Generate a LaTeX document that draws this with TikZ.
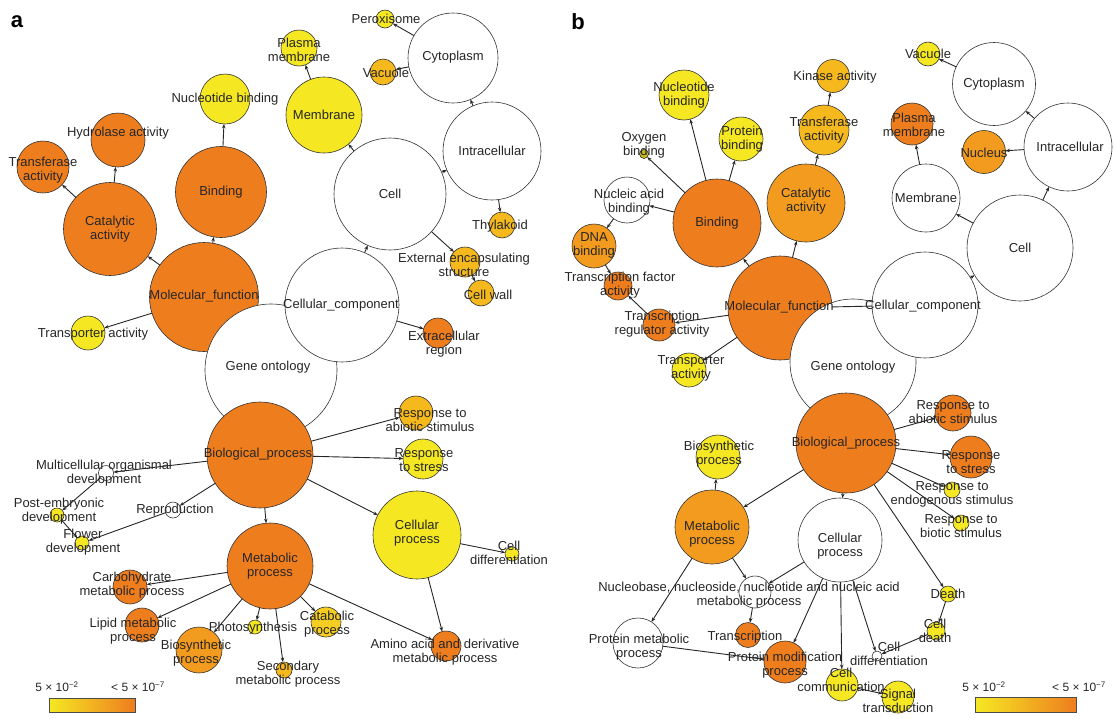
\documentclass[tikz,border=0pt]{standalone}
\usepackage{fontspec}
\setmainfont{Liberation Sans}
\usetikzlibrary{arrows.meta}

\definecolor{or1}{RGB}{238,125,30}
\definecolor{or2}{RGB}{242,155,30}
\definecolor{or3}{RGB}{245,185,30}
\definecolor{or4}{RGB}{245,205,35}
\definecolor{yel}{RGB}{245,232,35}
\definecolor{oli}{RGB}{200,185,30}

\tikzset{
  term/.style={circle, draw=black!80, line width=0.6pt, inner sep=0pt, outer sep=0pt},
  lbl/.style={align=center, font=\fontsize{13}{14}\selectfont, text=black!85, inner sep=0pt},
  isa/.style={-{Stealth[length=4.5pt,width=3.5pt]}, line width=0.9pt, black!85},
  link/.style={line width=0.9pt, black!85},
  bar/.style={draw=black!70, line width=0.5pt, left color=yel, middle color=or2, right color=or1},
  keytext/.style={font=\fontsize{12}{13}\selectfont, text=black!85, inner sep=0pt},
  panel/.style={font=\fontsize{22}{22}\selectfont\bfseries, inner sep=0pt}
}

\begin{document}
\begin{tikzpicture}[x=1pt,y=-1pt]
\useasboundingbox (0,0) rectangle (1115,718);

% panel a, terms (drawing order matters for the overlaps)
\foreach \n/\x/\y/\r/\c in {
  aMF/204/297/54.5/or1, aGO/271/370/66/white, aCC/342/305/57/white, aBP/260/455/53/or1,
  aCat/110/229/46.5/or1, aBind/221/192/45.5/or1, aHyd/118/140/27/or1, aTrf/43/167/26/or1,
  aNuc/225/99/25/yel, aTrp/88/333/17/yel,
  aCell/390/194/56/white, aIntra/492/151/49/white, aCyto/453/58/45/white,
  aPer/385/19/9/yel, aVac/383/72/13/or3, aMem/324/115/38/yel, aPM/299/48/18/yel,
  aThy/502/225/13/or3, aExt/465/262/15/or3, aWall/481/293/13/or3, aExtra/438/333/15/or1,
  aResA/416/413/17/or3, aResS/423/459/20/yel, aCP/417/535/44/yel, aCD/512/554/7/yel,
  aMul/106/473/7.5/white, aRep/173/510/8/white, aPost/57/515/7/yel, aFlow/82/543/7/yel,
  aMet/270/566/43/or1, aCarb/130/587/17/or1, aLip/142/625/17/or1, aBio/199/650/23/or2,
  aPho/255/627/7/yel, aSec/284/670/8/or3, aCata/326/622/15/or4, aAmi/446/646/15/or1}
  \node[term, fill=\c, minimum size={2*\r*1pt}] (\n) at (\x,\y) {};

% panel b, terms
\foreach \n/\x/\y/\r/\c in {
  bMF/780/308/52/or1, bGO/853/362/63/white, bCC/925/305/53/white, bBP/846/443/50/or1,
  bBind/717/223/44/or1, bCat/806/203/39/or2, bTrf/824/130/25/or3, bKin/833/76/16.5/or3,
  bNucB/684/95/25/yel, bProt/741/139/22/yel, bOxy/644/154/4.5/oli, bNA/627/200/23/white,
  bDNA/594/246/22/or2, bTF/618/286/14/or1, bTR/659/325/16/or1, bTrp/689/370/17/yel,
  bVac/928/54/12/yel, bCyto/994/84/41.5/white, bIntra/1068/147/44/white, bNucl/984/152/21.5/or2,
  bPM/912/124/21/or1, bMem/926/198/34/white, bCell/1020/248/53/white,
  bResA/953/413/18/or1, bResS/971/457/21/or1, bResE/952/490/8/yel, bResB/961/523/8/yel,
  bBio/718/457/22/yel, bMet/712/527/37/or2, bCP/840/540/42/white, bNB/755/592/16/white,
  bPMP/638/643/25/white, bTsc/748/635/12.5/or1, bPMod/785/662/21/or1, bCom/842/685/16/yel,
  bSig/898/697/16/yel, bCD/877/656/5/white, bDeath/948/594/8/yel, bCDe/936/631/9/yel}
  \node[term, fill=\c, minimum size={2*\r*1pt}] (\n) at (\x,\y) {};

% is_a / part_of edges
\foreach \a/\b in {
  aMF/aCat, aMF/aBind, aMF/aTrp, aCat/aTrf, aCat/aHyd, aBind/aNuc,
  aCC/aCell, aCC/aExtra, aCell/aMem, aCell/aIntra, aCell/aExt, aMem/aPM,
  aIntra/aCyto, aIntra/aThy, aCyto/aPer, aCyto/aVac, aExt/aWall,
  aBP/aResA, aBP/aResS, aBP/aCP, aBP/aMet, aBP/aMul, aBP/aRep,
  aMul/aPost, aPost/aFlow, aRep/aFlow, aCP/aCD, aCP/aAmi,
  aMet/aCarb, aMet/aLip, aMet/aBio, aMet/aPho, aMet/aSec, aMet/aCata, aMet/aAmi,
  bMF/bBind, bMF/bCat, bMF/bTR, bMF/bTrp, bBind/bNucB, bBind/bProt, bBind/bOxy,
  bBind/bNA, bNA/bDNA, bDNA/bTF, bTR/bTF, bCat/bTrf, bTrf/bKin,
  bCC/bCell, bCell/bMem, bCell/bIntra, bMem/bPM, bIntra/bCyto, bIntra/bNucl, bCyto/bVac,
  bBP/bResA, bBP/bResS, bBP/bResE, bBP/bResB, bBP/bMet, bBP/bCP, bBP/bDeath,
  bMet/bBio, bMet/bNB, bMet/bPMP, bCP/bNB, bCP/bPMod, bCP/bCom, bCP/bCD,
  bNB/bTsc, bPMP/bPMod, bCom/bSig, bDeath/bCDe, bCDe/bCD}
  \draw[isa] (\a) -- (\b);
\draw[link] (bMF) -- (bCC);

% term names
\foreach \n/\x/\y/\t in {
  aMF/204/296/{Molecular\_function}, aGO/268/367/{Gene ontology}, aCC/341/305/{Cellular\_component},
  aBP/258/454/{Biological\_process}, aCat/110/229/{Catalytic\\activity}, aBind/221/192/{Binding},
  aHyd/118/133/{Hydrolase activity}, aTrf/43/170/{Transferase\\activity}, aNuc/225/99/{Nucleotide binding},
  aTrp/93/334/{Transporter activity}, aCell/390/194/{Cell}, aIntra/492/151/{Intracellular},
  aCyto/453/57/{Cytoplasm}, aPer/386/19/{Peroxisome}, aVac/386/73/{Vacuole}, aMem/324/115/{Membrane},
  aPM/299/50/{Plasma\\membrane}, aThy/500/226/{Thylakoid}, aExt/464/265/{External encapsulating\\structure},
  aWall/488/295/{Cell wall}, aExtra/444/344/{Extracellular\\region},
  aResA/430/420/{Response to\\abiotic stimulus}, aResS/424/460/{Response\\to stress},
  aCP/417/533/{Cellular\\process}, aCD/509/553/{Cell\\differentiation},
  aMul/104/473/{Multicellular organismal\\development}, aRep/175/510/{Reproduction},
  aPost/59/511/{Post-embryonic\\development}, aFlow/83/542/{Flower\\development},
  aMet/270/566/{Metabolic\\process}, aCarb/132/585/{Carbohydrate\\metabolic process},
  aLip/133/631/{Lipid metabolic\\process}, aBio/196/653/{Biosynthetic\\process},
  aPho/253/628/{Photosynthesis}, aSec/288/674/{Secondary\\metabolic process},
  aCata/327/624/{Catabolic\\process}, aAmi/445/652/{Amino acid and derivative\\metabolic process},
  bMF/779/307/{Molecular\_function}, bGO/853/367/{Gene ontology}, bCC/923/306/{Cellular\_component},
  bBP/846/443/{Biological\_process}, bBind/717/223/{Binding}, bCat/806/201/{Catalytic\\activity},
  bTrf/824/130/{Transferase\\activity}, bKin/835/77/{Kinase activity}, bNucB/684/95/{Nucleotide\\binding},
  bProt/742/139/{Protein\\binding}, bOxy/644/145/{Oxygen\\binding}, bNA/629/202/{Nucleic acid\\binding},
  bDNA/594/245/{DNA\\binding}, bTF/620/285/{Transcription factor\\activity},
  bTR/662/324/{Transcription\\regulator activity}, bTrp/691/368/{Transporter\\activity},
  bVac/928/54/{Vacuole}, bCyto/994/84/{Cytoplasm}, bIntra/1070/147/{Intracellular},
  bNucl/984/153/{Nucleus}, bPM/914/125/{Plasma\\membrane}, bMem/926/198/{Membrane}, bCell/1020/248/{Cell},
  bResA/953/412/{Response to\\abiotic stimulus}, bResS/971/462/{Response\\to stress},
  bResE/952/494/{Response to\\endogenous stimulus}, bResB/961/526/{Response to\\biotic stimulus},
  bBio/719/454/{Biosynthetic\\process}, bMet/712/534/{Metabolic\\process}, bCP/840/546/{Cellular\\process},
  bNB/749/595/{Nucleobase, nucleoside, nucleotide and nucleic acid\\metabolic process},
  bPMP/639/647/{Protein metabolic\\process}, bTsc/745/637/{Transcription},
  bPMod/785/665/{Protein modification\\process}, bCom/841/680/{Cell\\communication},
  bSig/898/701/{Signal\\transduction}, bCD/889/654/{Cell\\differentiation},
  bDeath/948/594/{Death}, bCDe/935/631/{Cell\\death}}
  \node[lbl] (\n-t) at (\x,\y) {\t};

% panel letters and P-value keys
\node[panel] (pa) at (17,22) {a};
\node[panel] (pb) at (578,22) {b};
\node[bar, minimum width=86pt, minimum height=14pt] (keyA) at (92,705) {};
\node[keytext] (keyA-lo) at (57,687) {5 × 10\textsuperscript{−2}};
\node[keytext] (keyA-hi) at (138,687) {< 5 × 10\textsuperscript{−7}};
\node[bar, minimum width=101pt, minimum height=15pt] (keyB) at (1026,705) {};
\node[keytext] (keyB-lo) at (984,687) {5 × 10\textsuperscript{−2}};
\node[keytext] (keyB-hi) at (1079,687) {< 5 × 10\textsuperscript{−7}};
\end{tikzpicture}
\end{document}
